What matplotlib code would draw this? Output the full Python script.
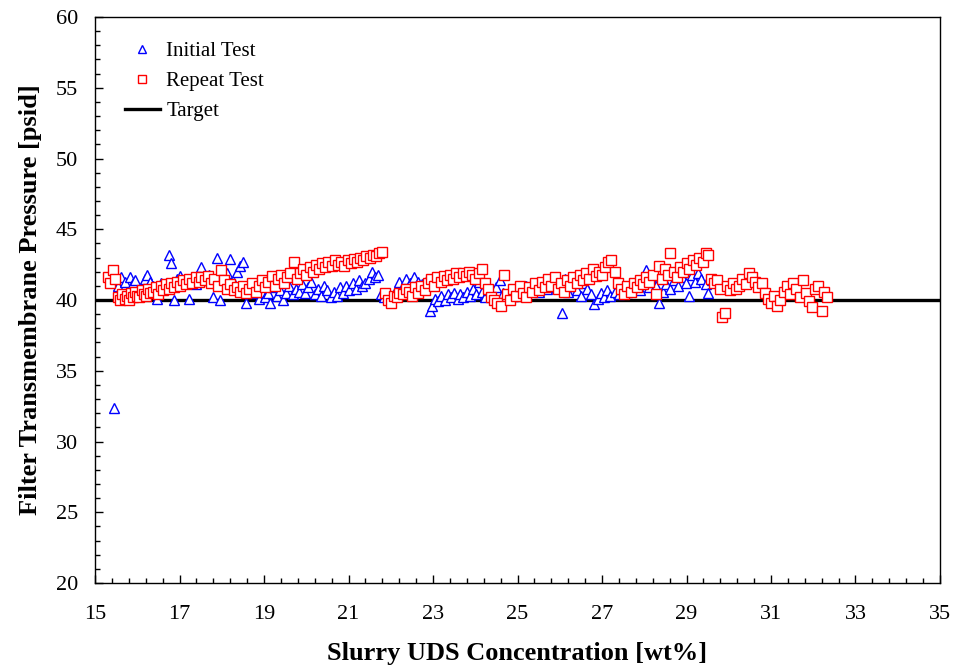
import matplotlib
matplotlib.use("Agg")
import matplotlib.pyplot as plt
from matplotlib.ticker import MultipleLocator

# filter TMP vs slurry solids, initial and repeat runs
initial_x = [15.45, 15.55, 15.62, 15.70, 15.78, 15.82, 15.90, 15.95, 16.02, 16.10,
             16.18, 16.22, 16.30, 16.38, 16.47, 16.55, 16.62, 16.75, 16.80, 16.87,
             16.95, 17.02, 17.10, 17.22, 17.30, 17.40, 17.50, 17.60, 17.70, 17.80,
             17.88, 17.95, 18.05, 18.12, 18.20, 18.28, 18.35, 18.42, 18.50, 18.58,
             18.65, 18.72, 18.80, 18.88, 18.95, 19.02, 19.10, 19.15, 19.22, 19.30,
             19.38, 19.45, 19.52, 19.60, 19.68, 19.75, 19.82, 19.90, 19.98, 20.05,
             20.12, 20.20, 20.28, 20.35, 20.42, 20.50, 20.58, 20.65, 20.72, 20.80,
             20.88, 20.95, 21.02, 21.10, 21.18, 21.25, 21.32, 21.40, 21.48, 21.56,
             21.62, 21.70, 21.78, 21.85, 21.92, 22.00, 22.10, 22.20, 22.28, 22.35,
             22.45, 22.55, 22.65, 22.75, 22.85, 22.92, 22.98, 23.05, 23.12, 23.20,
             23.28, 23.35, 23.42, 23.50, 23.58, 23.65, 23.72, 23.80, 23.88, 23.95,
             24.02, 24.08, 24.15, 24.22, 24.30, 24.38, 24.48, 24.58, 24.65, 24.72,
             24.80, 24.90, 25.00, 25.10, 25.20, 25.30, 25.40, 25.50, 25.60, 25.70,
             25.80, 25.90, 26.05, 26.12, 26.20, 26.30, 26.40, 26.50, 26.58, 26.65,
             26.75, 26.82, 26.90, 26.98, 27.05, 27.12, 27.20, 27.30, 27.40, 27.50,
             27.60, 27.70, 27.80, 27.90, 27.98, 28.05, 28.12, 28.20, 28.28, 28.36,
             28.45, 28.52, 28.60, 28.70, 28.80, 28.90, 28.98, 29.05, 29.12, 29.20,
             29.28, 29.35, 29.45, 29.52, 29.60]
initial_tmp = [32.4, 41.0, 41.6, 41.3, 40.2, 41.6, 41.2, 41.4, 40.6, 41.0,
               41.5, 41.8, 41.3, 41.0, 40.1, 41.2, 40.8, 43.2, 42.6, 40.0,
               41.5, 41.7, 41.3, 40.1, 41.6, 41.1, 42.3, 41.4, 41.8, 40.2,
               43.0, 40.0, 41.6, 41.9, 42.9, 41.2, 42.0, 42.4, 42.7, 39.8,
               41.0, 40.5, 41.2, 40.1, 40.6, 40.2, 40.5, 39.8, 40.9, 40.3,
               40.7, 40.0, 40.5, 41.0, 40.4, 40.8, 40.6, 41.1, 40.5, 40.9,
               41.3, 40.4, 40.8, 40.3, 41.0, 40.7, 40.2, 40.6, 40.3, 40.9,
               40.5, 41.0, 40.7, 41.2, 40.8, 41.4, 41.0, 41.2, 41.5, 42.0,
               41.6, 41.8, 40.4, 40.2, 40.5, 40.3, 40.6, 41.3, 41.0, 41.5,
               41.2, 41.6, 41.3, 41.1, 41.4, 39.2, 39.6, 40.1, 39.9, 40.3,
               40.0, 40.4, 40.2, 40.5, 40.1, 40.4, 40.2, 40.6, 40.3, 40.8,
               40.4, 41.3, 40.6, 40.2, 40.7, 40.4, 40.9, 41.4, 40.5, 40.2,
               40.6, 40.3, 40.8, 40.5, 41.0, 40.7, 41.2, 40.6, 41.0, 40.8,
               41.3, 40.9, 39.1, 41.5, 40.6, 41.0, 40.7, 40.3, 41.2, 40.8,
               40.4, 39.7, 40.1, 40.5, 40.2, 40.7, 40.3, 40.6, 40.4, 40.8,
               40.6, 40.9, 41.0, 40.7, 41.2, 42.1, 40.9, 41.3, 41.0, 39.8,
               40.6, 41.1, 40.8, 41.4, 41.0, 41.6, 41.2, 40.3, 41.8, 41.3,
               41.9, 41.5, 41.1, 40.5, 41.4]

repeat_x = [15.30, 15.35, 15.42, 15.48, 15.55, 15.60, 15.65, 15.70, 15.75, 15.80,
            15.85, 15.90, 15.95, 16.00, 16.05, 16.10, 16.15, 16.20, 16.25, 16.30,
            16.38, 16.45, 16.50, 16.55, 16.62, 16.68, 16.75, 16.80, 16.88, 16.95,
            17.00, 17.08, 17.15, 17.22, 17.30, 17.38, 17.45, 17.52, 17.60, 17.68,
            17.75, 17.82, 17.90, 17.97, 18.05, 18.12, 18.20, 18.28, 18.35, 18.42,
            18.50, 18.58, 18.65, 18.72, 18.80, 18.88, 18.95, 19.02, 19.10, 19.18,
            19.25, 19.32, 19.40, 19.48, 19.55, 19.62, 19.70, 19.78, 19.85, 19.92,
            20.00, 20.08, 20.15, 20.22, 20.30, 20.38, 20.45, 20.52, 20.60, 20.68,
            20.75, 20.82, 20.90, 20.98, 21.05, 21.12, 21.20, 21.28, 21.35, 21.42,
            21.50, 21.58, 21.65, 21.72, 21.80, 21.87, 21.93, 22.00, 22.07, 22.14,
            22.20, 22.28, 22.35, 22.42, 22.50, 22.58, 22.65, 22.72, 22.80, 22.87,
            22.95, 23.02, 23.10, 23.18, 23.25, 23.32, 23.40, 23.48, 23.55, 23.62,
            23.70, 23.78, 23.85, 23.92, 24.00, 24.08, 24.15, 24.22, 24.30, 24.38,
            24.45, 24.52, 24.60, 24.68, 24.75, 24.82, 24.90, 24.97, 25.05, 25.12,
            25.20, 25.28, 25.35, 25.42, 25.50, 25.58, 25.65, 25.72, 25.80, 25.88,
            25.95, 26.02, 26.10, 26.18, 26.25, 26.32, 26.40, 26.48, 26.55, 26.62,
            26.70, 26.78, 26.85, 26.92, 27.00, 27.08, 27.15, 27.22, 27.30, 27.38,
            27.45, 27.52, 27.60, 27.68, 27.75, 27.82, 27.90, 27.97, 28.05, 28.12,
            28.20, 28.28, 28.35, 28.42, 28.50, 28.57, 28.62, 28.70, 28.78, 28.85,
            28.92, 29.00, 29.07, 29.15, 29.22, 29.30, 29.38, 29.45, 29.52, 29.58,
            29.65, 29.72, 29.80, 29.85, 29.90, 29.95, 30.02, 30.10, 30.18, 30.25,
            30.32, 30.40, 30.48, 30.55, 30.62, 30.70, 30.78, 30.85, 30.92, 31.00,
            31.07, 31.15, 31.22, 31.30, 31.38, 31.45, 31.52, 31.60, 31.68, 31.75,
            31.82, 31.90, 31.97, 32.05, 32.12, 32.20, 32.25, 32.32]
repeat_tmp = [41.6, 41.2, 42.1, 41.5, 40.2, 40.0, 40.4, 40.1, 40.3, 40.0,
              40.5, 40.2, 40.6, 40.3, 40.2, 40.7, 40.4, 40.3, 40.8, 40.5,
              40.6, 40.9, 40.4, 41.0, 40.7, 41.1, 40.8, 41.2, 40.9, 41.3,
              41.0, 41.4, 41.1, 41.5, 41.2, 41.6, 41.3, 41.6, 41.4, 41.7,
              41.2, 41.5, 41.0, 42.1, 41.4, 40.8, 41.1, 40.7, 40.9, 40.6,
              41.0, 40.5, 40.8, 41.2, 40.6, 41.0, 41.4, 40.9, 41.3, 41.7,
              41.0, 41.5, 41.8, 41.2, 41.6, 41.9, 42.7, 41.5, 41.9, 42.2,
              41.8, 42.3, 42.0, 42.5, 42.2, 42.6, 42.3, 42.7, 42.4, 42.8,
              42.5, 42.7, 42.4, 42.8, 42.6, 42.9, 42.7, 43.0, 42.8, 43.1,
              43.0, 43.2, 43.1, 43.3, 43.4, 40.5, 40.0, 39.8, 40.3, 40.2,
              40.5, 40.4, 40.8, 40.6, 40.3, 40.9, 40.5, 41.0, 40.7, 41.2,
              41.5, 41.0, 41.6, 41.3, 41.7, 41.4, 41.8, 41.5, 41.9, 41.6,
              41.9, 41.7, 42.0, 41.8, 41.5, 41.9, 42.2, 41.2, 40.8, 40.2,
              40.0, 39.8, 39.6, 41.8, 40.4, 40.0, 40.8, 40.3, 41.0, 40.5,
              40.2, 40.9, 40.6, 41.2, 40.7, 41.3, 40.9, 41.5, 41.0, 41.6,
              40.8, 41.2, 40.6, 41.4, 41.0, 41.6, 41.2, 41.8, 41.4, 41.9,
              41.5, 42.2, 41.7, 42.0, 41.8, 42.3, 42.7, 42.8, 42.0, 41.2,
              40.8, 40.4, 41.0, 40.6, 41.2, 40.9, 41.4, 41.1, 41.6, 41.3,
              41.8, 40.4, 42.4, 41.5, 42.2, 41.8, 43.3, 42.0, 41.6, 42.3,
              42.0, 42.6, 42.2, 42.8, 42.5, 43.0, 42.7, 43.3, 43.2, 41.5,
              41.2, 41.4, 40.8, 38.8, 39.1, 41.0, 40.7, 41.2, 40.8, 41.0,
              41.5, 41.1, 41.9, 41.6, 41.3, 40.9, 41.2, 40.5, 40.1, 39.8,
              40.3, 39.6, 40.0, 40.6, 41.0, 40.4, 41.2, 40.8, 40.2, 41.4,
              40.5, 39.9, 39.5, 40.8, 41.0, 39.2, 40.6, 40.2]

target_tmp = 40.0

plt.rcParams['font.family'] = ['Liberation Serif', 'DejaVu Serif']

fig = plt.figure(figsize=(9.58, 6.72), dpi=100)
ax = fig.add_axes([0.0992, 0.1324, 0.882, 0.8423])

ax.axhline(target_tmp, color='black', lw=2.4, zorder=1, label='Target')
ax.plot(initial_x, initial_tmp, ls='none', marker='^', ms=7, mfc='white',
        mec='blue', mew=1.0, zorder=2, label='Initial Test')
ax.plot(repeat_x, repeat_tmp, ls='none', marker='s', ms=7, mfc='white',
        mec='red', mew=1.0, zorder=3, label='Repeat Test')

ax.set_xlim(15, 35)
ax.set_ylim(20, 60)
ax.xaxis.set_major_locator(MultipleLocator(2, offset=1))
ax.xaxis.set_minor_locator(MultipleLocator(0.4, offset=0.2))
ax.yaxis.set_major_locator(MultipleLocator(5))
ax.yaxis.set_minor_locator(MultipleLocator(1))
ax.tick_params(which='major', direction='in', length=6, width=1, labelsize=16)
ax.tick_params(axis='x', which='major', pad=16)
ax.tick_params(axis='y', which='major', pad=12)
ax.tick_params(which='minor', direction='in', length=3.5, width=1)
for s in ax.spines.values():
    s.set_linewidth(1)

ax.set_xlabel('Slurry UDS Concentration [wt%]', fontsize=19, fontweight='bold', labelpad=13)
ax.set_ylabel('Filter Transmembrane Pressure [psid]', fontsize=19, fontweight='bold', labelpad=10)

h, l = ax.get_legend_handles_labels()
order = [1, 2, 0]
leg = ax.legend([h[i] for i in order], [l[i] for i in order], loc='upper left',
                bbox_to_anchor=(0.013, 0.99), frameon=False, fontsize=15,
                handlelength=1.7, handletextpad=0.3, labelspacing=0.5, markerscale=0.75)

fig.savefig('out.png', dpi=100)
